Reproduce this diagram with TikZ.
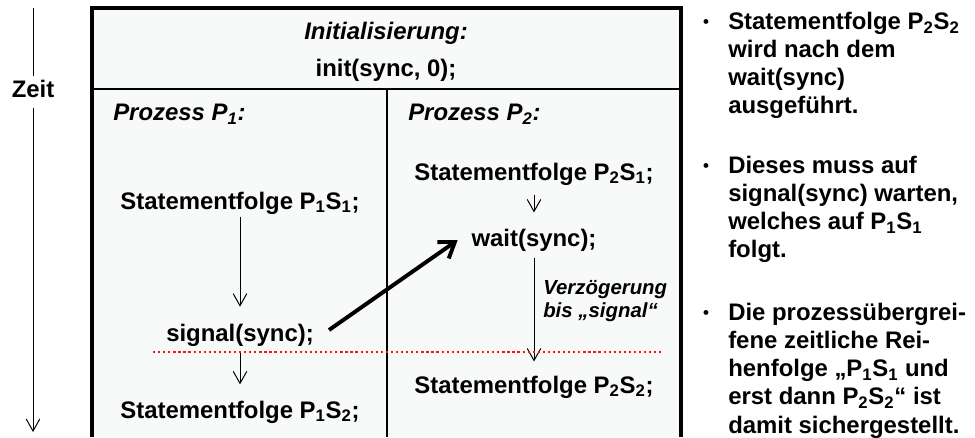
\documentclass[tikz,border=0pt]{standalone}
\usepackage{fontspec}
\setmainfont{Liberation Sans}
\usetikzlibrary{arrows.meta, positioning}

\definecolor{panel}{RGB}{248,249,249}
\definecolor{syncred}{RGB}{255,20,20}

\newcommand{\txt}{\fontsize{17}{20}\selectfont\bfseries}
\newcommand{\delaytxt}{\fontsize{14.5}{16.6}\selectfont\bfseries\itshape}

\begin{document}
\begin{tikzpicture}[x=0.025cm, y=-0.025cm,
  lbl/.style={font=\txt, inner sep=0pt},
  head/.style={font=\txt\itshape, inner sep=0pt},
  note/.style={font=\txt, inner sep=0pt, align=left, anchor=north west},
  dot/.style={font=\fontsize{12}{12}\selectfont\bfseries, inner sep=0pt, anchor=base},
  arr/.style={-{Straight Barb[length=0.3cm, width=0.34cm]}, line width=0.7pt},
  sync/.style={-{Straight Barb[length=0.36cm, width=0.5cm]}, line width=2.8pt},
  frame/.style={line width=2.2pt},
  rule/.style={line width=1.3pt},
  redline/.style={syncred, line width=1.6pt, dash pattern=on 1.6pt off 2pt}
]
\useasboundingbox (0,0) rectangle (975,437);
% Rahmen
\fill[panel] (92,8) rectangle (681,437);
\draw[frame] (92,437) -- (92,8) -- (681,8) -- (681,437);
\draw[rule] (92,89) -- (681,89);
\draw[rule] (387,89) -- (387,437);

% Zeitachse
\coordinate (ztop) at (33,8);
\coordinate (zend) at (33,432);
\node[lbl] (zeit) at (33,89) {Zeit};
\draw[line width=0.7pt, shorten >=3pt] (ztop) -- (zeit);
\draw[arr, shorten <=7pt] (zeit) -- (zend);

% Kopf
\node[head] (init) at (386,33) {Initialisierung:};
\node[lbl] (initcall) at (386,70) {init(sync, 0);};
\node[head, anchor=west] (p1head) at (113,114) {Prozess P\textsubscript{1}:};
\node[head, anchor=west] (p2head) at (408,114) {Prozess P\textsubscript{2}:};

% Prozess 1
\node[lbl] (p1s1) at (240,203) {Statementfolge P\textsubscript{1}S\textsubscript{1};};
\node[lbl] (signal) at (240,335) {signal(sync);};
\node[lbl] (p1s2) at (240,412) {Statementfolge P\textsubscript{1}S\textsubscript{2};};

% Prozess 2
\node[lbl] (p2s1) at (534,174) {Statementfolge P\textsubscript{2}S\textsubscript{1};};
\node[lbl] (wait) at (534,240) {wait(sync);};
\node[lbl] (p2s2) at (534,387) {Statementfolge P\textsubscript{2}S\textsubscript{2};};
\node[font=\delaytxt, inner sep=0pt, align=left, anchor=west] (delay) at (543,301) {Verzögerung\\bis „signal“};

\draw[arr, shorten <=1.5pt, shorten >=12pt] (p1s1) -- (signal);
\draw[arr, shorten <=3.6pt, shorten >=11.5pt] (signal) -- (p1s2);
\draw[arr, shorten <=6.8pt, shorten >=11.5pt] (p2s1) -- (wait);
\draw[arr, shorten <=4.6pt, shorten >=10pt] (wait) -- (p2s2);
\draw[sync] ([xshift=0.375cm, yshift=0.125cm]signal.east) -- ([xshift=-0.34cm]wait.west);

% Grenze
\coordinate (redL) at (153,352);
\coordinate (redR) at (663,352);
\draw[redline] (redL) -- (redR);

% Erklaerung
\node[dot] (d1) at (706,27) {•};
\node[note] (n1) at (728,12) {Statementfolge P\textsubscript{2}S\textsubscript{2}\\wird nach dem\\wait(sync)\\ausgeführt.};
\node[dot] (d2) at (706,171) {•};
\node[note] (n2) at (728,156) {Dieses muss auf\\signal(sync) warten,\\welches auf P\textsubscript{1}S\textsubscript{1}\\folgt.};
\node[dot] (d3) at (706,318) {•};
\node[note] (n3) at (728,303) {Die prozessübergrei-\\fene zeitliche Rei-\\henfolge „P\textsubscript{1}S\textsubscript{1} und\\erst dann P\textsubscript{2}S\textsubscript{2}“ ist\\damit sichergestellt.};
\end{tikzpicture}
\end{document}
